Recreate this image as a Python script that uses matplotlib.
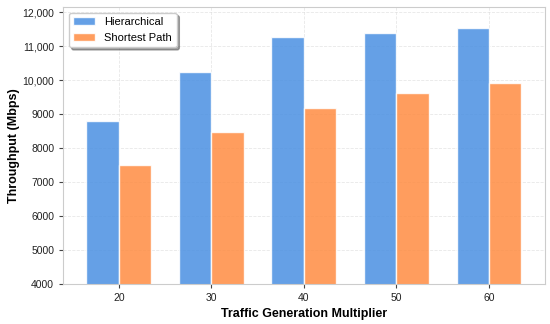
import matplotlib
matplotlib.use("Agg")
import matplotlib.pyplot as plt
from matplotlib.ticker import FuncFormatter
import numpy as np

multipliers = ["20", "30", "40", "50", "60"]
hierarchical = [8800, 10250, 11270, 11380, 11530]
shortest_path = [7490, 8470, 9190, 9610, 9900]

plt.rcParams["font.family"] = ["Liberation Sans", "DejaVu Sans"]


def thousands(x, pos):
    return f"{x:,.0f}" if x >= 10000 else f"{x:.0f}"


def main() -> None:
    fig, ax = plt.subplots(figsize=(5.5, 3.24), dpi=100)
    x = np.arange(len(multipliers))
    width = 0.35

    ax.bar(x - width / 2, hierarchical, width, label="Hierarchical",
           color="#4A90E2", alpha=0.85, edgecolor="white", linewidth=1.0)
    ax.bar(x + width / 2, shortest_path, width, label="Shortest Path",
           color="#FF8C42", alpha=0.85, edgecolor="white", linewidth=1.0)

    ax.set_xticks(x)
    ax.set_xticklabels(multipliers)
    ax.set_ylim(4000, 12150)
    ax.set_xlim(-0.6, 4.6)
    ax.yaxis.set_major_formatter(FuncFormatter(thousands))

    ax.set_xlabel("Traffic Generation Multiplier", fontsize=9, fontweight="bold")
    ax.set_ylabel("Throughput (Mbps)", fontsize=9, fontweight="bold", labelpad=2)
    ax.tick_params(labelsize=7.5, color="#444444", labelcolor="#222222", length=3)

    ax.grid(True, linestyle="--", color="#dddddd", alpha=0.7, linewidth=0.6)
    ax.set_axisbelow(True)
    for spine in ax.spines.values():
        spine.set_color("#cccccc")

    ax.legend(loc="upper left", fontsize=8, shadow=True, fancybox=True,
              frameon=True)

    fig.subplots_adjust(left=0.115, right=0.99, top=0.978, bottom=0.125)
    fig.savefig("out.png")


if __name__ == "__main__":
    main()
